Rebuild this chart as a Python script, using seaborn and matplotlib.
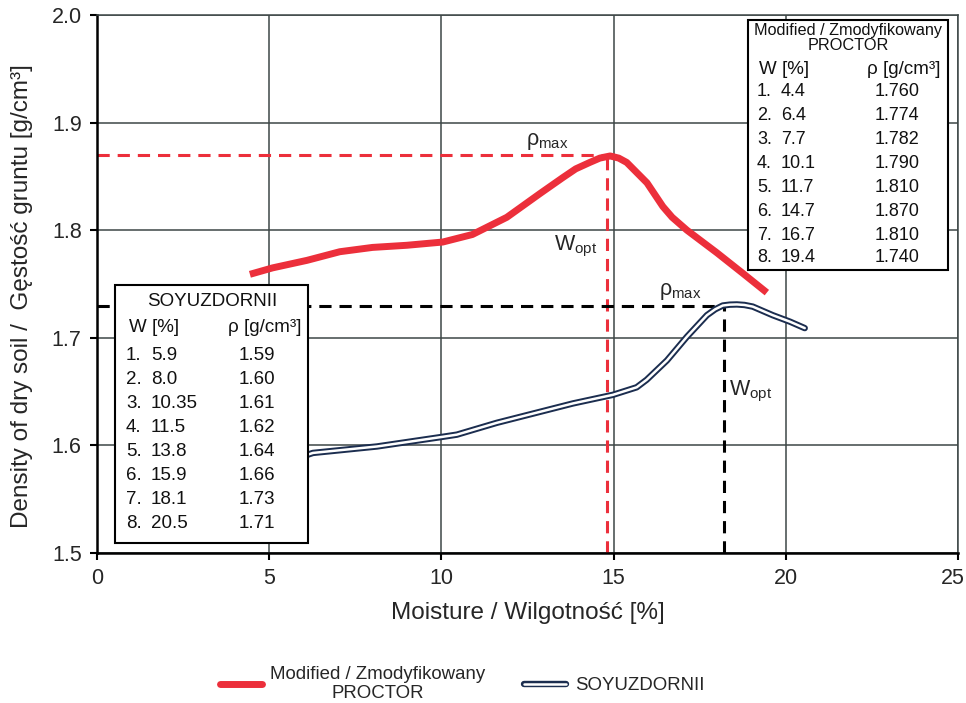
import matplotlib
matplotlib.use("Agg")
import matplotlib.pyplot as plt
from matplotlib.patches import Rectangle
from matplotlib.lines import Line2D
from matplotlib.legend_handler import HandlerTuple
from matplotlib.transforms import ScaledTranslation
import seaborn as sns
import pandas as pd

# ---- data ----
proctor_w = [4.44, 5.1, 6.1, 7.05, 8.0, 9.0, 10.04, 10.9, 11.9, 12.86, 13.53, 13.9,
             14.31, 14.6, 14.9, 15.15, 15.38, 15.97, 16.43, 16.7, 17.13, 18.0, 18.75, 19.45]
proctor_rho = [1.759, 1.765, 1.772, 1.780, 1.784, 1.786, 1.789, 1.796, 1.812, 1.834,
               1.849, 1.857, 1.863, 1.867, 1.869, 1.867, 1.863, 1.844, 1.822, 1.812,
               1.800, 1.779, 1.760, 1.742]

soy_w = [5.9, 6.27, 8.13, 10.04, 10.45, 11.61, 13.82, 14.98, 15.67, 15.96, 16.55,
         17.13, 17.71, 17.95, 18.17, 18.37, 18.58, 18.8, 19.04, 19.62, 20.12, 20.55]
soy_rho = [1.589, 1.593, 1.599, 1.608, 1.610, 1.621, 1.639, 1.647, 1.654, 1.661,
           1.679, 1.701, 1.721, 1.7265, 1.730, 1.7308, 1.731, 1.7305, 1.729, 1.721,
           1.715, 1.709]

proctor_opt_w, proctor_max_rho = 14.8, 1.87
soy_opt_w, soy_max_rho = 18.2, 1.73

proctor_tab_w = ["4.4", "6.4", "7.7", "10.1", "11.7", "14.7", "16.7", "19.4"]
proctor_tab_rho = ["1.760", "1.774", "1.782", "1.790", "1.810", "1.870", "1.810", "1.740"]
soy_tab_w = ["5.9", "8.0", "10.35", "11.5", "13.8", "15.9", "18.1", "20.5"]
soy_tab_rho = ["1.59", "1.60", "1.61", "1.62", "1.64", "1.66", "1.73", "1.71"]

x_ticks = [0, 5, 10, 15, 20, 25]
y_ticks = [1.5, 1.6, 1.7, 1.8, 1.9, 2.0]

RED = "#ec2f3b"
NAVY = "#1b2d4f"
GRID = "#3d4646"

sns.set_style("white")
plt.rcParams["font.family"] = ["Liberation Sans", "DejaVu Sans"]
plt.rcParams["mathtext.fontset"] = "custom"
plt.rcParams["mathtext.rm"] = "Liberation Sans"
plt.rcParams["mathtext.it"] = "Liberation Sans"

fig = plt.figure(figsize=(9.66, 7.03), dpi=100)
AX_L, AX_R, AX_T, AX_B = 97, 958, 15, 553
W, H = 966, 703
ax = fig.add_axes([AX_L / W, 1 - AX_B / H, (AX_R - AX_L) / W, (AX_B - AX_T) / H])


def axc(px, py):
    return ((px - AX_L) / (AX_R - AX_L), (AX_B - py) / (AX_B - AX_T))


df_p = pd.DataFrame({"w": proctor_w, "rho": proctor_rho})
df_s = pd.DataFrame({"w": soy_w, "rho": soy_rho})

# grid
ax.set_xlim(0, 25)
ax.set_ylim(1.5, 2.0)
ax.set_xticks(x_ticks)
ax.set_yticks(y_ticks)
ax.set_xticklabels([str(t) for t in x_ticks])
ax.set_yticklabels([f"{t:.1f}" for t in y_ticks])
ax.grid(True, color=GRID, lw=1.1, zorder=0)
ax.set_axisbelow(True)

# reference dashed lines
dash_kw = dict(lw=2.2, dashes=(4, 2.6), zorder=2)
ax.plot([0, proctor_opt_w], [proctor_max_rho] * 2, color=RED, **dash_kw)
ax.plot([proctor_opt_w] * 2, [1.5, proctor_max_rho], color=RED, **dash_kw)
ax.plot([0, soy_opt_w], [soy_max_rho] * 2, color="black", **dash_kw)
ax.plot([soy_opt_w] * 2, [1.5, soy_max_rho], color="black", **dash_kw)

# curves
sns.lineplot(data=df_p, x="w", y="rho", sort=False, estimator=None, ax=ax,
             color=RED, lw=5, zorder=4, solid_capstyle="butt", solid_joinstyle="round")
sns.lineplot(data=df_s, x="w", y="rho", sort=False, estimator=None, ax=ax,
             color=NAVY, lw=4.6, zorder=4, solid_capstyle="round", solid_joinstyle="round")
sns.lineplot(data=df_s, x="w", y="rho", sort=False, estimator=None, ax=ax,
             color="white", lw=1.8, zorder=5, solid_capstyle="round", solid_joinstyle="round")

# spines
for s in ["top", "right"]:
    ax.spines[s].set_color(GRID)
    ax.spines[s].set_linewidth(1.1)
for s in ["left", "bottom"]:
    ax.spines[s].set_color("black")
    ax.spines[s].set_linewidth(1.8)
ax.tick_params(axis="both", direction="out", length=5, width=1.5, color="black",
               labelsize=15.5, pad=6)
ax.tick_params(axis="x", bottom=True)
ax.tick_params(axis="y", left=True)
last = ax.get_xticklabels()[-1]
last.set_transform(last.get_transform() + ScaledTranslation(-5 / 100, 0, fig.dpi_scale_trans))

ax.set_xlabel("Moisture / Wilgotność [%]", fontsize=17.5, labelpad=9)
ax.set_ylabel("Density of dry soil /  Gęstość gruntu [g/cm³]", fontsize=17.5)
ax.yaxis.set_label_coords((33 - AX_L) / (AX_R - AX_L), (AX_B - 296) / (AX_B - AX_T))

# annotations
ann_kw = dict(transform=ax.transAxes, fontsize=15.5, zorder=7, va="center", ha="left")
ax.text(*axc(526, 141), r"$\mathregular{ρ_{max}}$", **ann_kw)
ax.text(*axc(554, 246), r"$\mathregular{W_{opt}}$", **ann_kw)
ax.text(*axc(659, 291), r"$\mathregular{ρ_{max}}$", **ann_kw)
ax.text(*axc(729, 391), r"$\mathregular{W_{opt}}$", **ann_kw)


# tables
def table_box(x0, y0, x1, y1):
    bx, by = axc(x0, y1)
    tx, ty = axc(x1, y0)
    ax.add_patch(Rectangle((bx, by), tx - bx, ty - by, transform=ax.transAxes,
                           facecolor="white", edgecolor="black", lw=1.5, zorder=8))


tk = dict(transform=ax.transAxes, zorder=9, va="center", color="#111111")

table_box(748, 20, 948, 270)
ax.text(*axc(848, 31), "Modified / Zmodyfikowany", ha="center", fontsize=11.7, **tk)
ax.text(*axc(848, 46), "PROCTOR", ha="center", fontsize=11.7, **tk)
ax.text(*axc(759, 70), "W [%]", ha="left", fontsize=13.5, **tk)
ax.text(*axc(867, 70), "ρ [g/cm³]", ha="left", fontsize=13.5, **tk)
row_y_r = [92, 115, 139, 163, 187, 211, 235, 258]
for i, (wv, rv) in enumerate(zip(proctor_tab_w, proctor_tab_rho)):
    ax.text(*axc(757, row_y_r[i]), f"{i + 1}.", ha="left", fontsize=13, **tk)
    ax.text(*axc(781, row_y_r[i]), wv, ha="left", fontsize=13, **tk)
    ax.text(*axc(875, row_y_r[i]), rv, ha="left", fontsize=13, **tk)

table_box(115, 285, 308, 543)
ax.text(*axc(212, 302), "SOYUZDORNII", ha="center", fontsize=13.5, **tk)
ax.text(*axc(129, 328), "W [%]", ha="left", fontsize=13.5, **tk)
ax.text(*axc(228, 328), "ρ [g/cm³]", ha="left", fontsize=13.5, **tk)
row_y_l = [355, 380, 404, 428, 452, 476, 500, 523]
for i, (wv, rv) in enumerate(zip(soy_tab_w, soy_tab_rho)):
    ax.text(*axc(126, row_y_l[i]), f"{i + 1}.", ha="left", fontsize=13.5, **tk)
    ax.text(*axc(151, row_y_l[i]), wv, ha="left", fontsize=13.5, **tk)
    ax.text(*axc(239, row_y_l[i]), rv, ha="left", fontsize=13.5, **tk)

# legend
h_red = Line2D([], [], color=RED, lw=5)
h_s1 = Line2D([], [], color=NAVY, lw=4.6, solid_capstyle="round")
h_s2 = Line2D([], [], color="white", lw=1.8, solid_capstyle="round")
leg = fig.legend([h_red, (h_s1, h_s2)],
                 ["Modified / Zmodyfikowany\nPROCTOR", "SOYUZDORNII"],
                 handler_map={tuple: HandlerTuple(ndivide=1, pad=0)},
                 loc="center", bbox_to_anchor=(462 / W, 1 - 684 / H), ncol=2,
                 frameon=False, fontsize=13.4, handlelength=2.25,
                 handletextpad=0.45, columnspacing=2.1)
for t in leg.get_texts():
    t.set_multialignment("center")
    t.set_linespacing(1.1)

fig.savefig("out.png", dpi=100)
